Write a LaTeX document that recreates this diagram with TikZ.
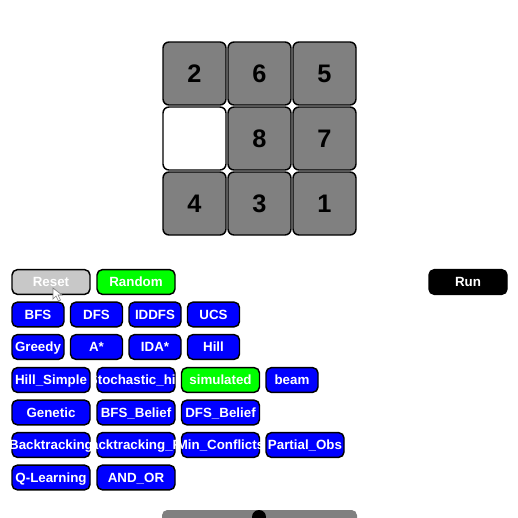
\documentclass[tikz,border=0pt]{standalone}
\usepackage{fontspec}
\setmainfont{Liberation Sans}
\definecolor{tilegray}{RGB}{128,128,128}
\definecolor{btnblue}{RGB}{0,0,255}
\definecolor{btngreen}{RGB}{0,255,0}
\definecolor{btnreset}{RGB}{200,200,200}
\definecolor{slidergray}{RGB}{128,128,128}

\begin{document}
\begin{tikzpicture}[x=0.75pt,y=0.75pt,yscale=-1,xscale=1,
    tile/.style={draw=black, line width=1.1pt, rounded corners=4.5pt, minimum width=47.25pt, minimum height=47.25pt, inner sep=0pt, font=\fontsize{19}{19}\selectfont\bfseries},
    btnbox/.style={draw=black, line width=1.1pt, rounded corners=4pt, minimum height=18.5pt, inner sep=0pt},
    btntext/.style={text=white, font=\fontsize{10}{10}\selectfont\bfseries, inner sep=0pt, anchor=base}]
%set diagram: 518 x 518
\clip (0,0) rectangle (518,518);
\fill[white] (0,0) rectangle (518,518);

%Shape: Board tiles
\foreach \n/\c/\r in {2/0/0,6/1/0,5/2/0,8/1/1,7/2/1,4/0/2,3/1/2,1/2/2}
  \node[tile, fill=tilegray] (tile\n) at (194.5+65*\c,73.5+65*\r) {\n};
\node[tile, fill=white] (blank) at (194.5,138.5) {};

%Shape: Buttons
\foreach \name/\cx/\cy/\w/\col/\txt in {
    reset/51/282/78/btnreset/Reset, random/136/282/78/btngreen/Random, run/468/282/78/black/Run,
    bfs/38/314.5/52/btnblue/BFS, dfs/96.5/314.5/52/btnblue/DFS, iddfs/155/314.5/52/btnblue/IDDFS, ucs/213.5/314.5/52/btnblue/UCS,
    greedy/38/347/52/btnblue/Greedy, astar/96.5/347/52/btnblue/A*, idastar/155/347/52/btnblue/IDA*, hill/213.5/347/52/btnblue/Hill,
    hillsimple/51/380/78/btnblue/Hill\_Simple, stochastic/136/380/78/btnblue/Stochastic\_hill, simulated/220.5/380/78/btngreen/simulated, beam/292/380/52/btnblue/beam,
    genetic/51/412.5/78/btnblue/Genetic, bfsbelief/136/412.5/78/btnblue/BFS\_Belief, dfsbelief/220.5/412.5/78/btnblue/DFS\_Belief,
    backtrack/51/445/78/btnblue/Backtracking, backtrackfc/136/445/78/btnblue/Backtracking\_FC, minconf/220.5/445/78/btnblue/Min\_Conflicts, partialobs/305/445/78/btnblue/Partial\_Obs,
    qlearning/51/477.5/78/btnblue/Q-Learning, andor/136/477.5/78/btnblue/AND\_OR}
{
  \node[btnbox, fill=\col, minimum width=\w*0.75pt] (\name) at (\cx,\cy) {};
  \begin{scope}
    \clip (\name.south west) rectangle (\name.north east);
    \node[btntext] at ([yshift=3.6pt]\name.center) {\txt};
  \end{scope}
}

%Shape: Slider
\fill[slidergray, rounded corners=4pt] (162,510) rectangle (357,530);
\fill[black] (259,517) circle (7);

%Shape: Mouse pointer
\draw[fill=white, draw=gray, line width=0.5pt] (53,288) -- (53,299) -- (56,296) -- (58.5,301) -- (60.5,300) -- (58,295) -- (62,295) -- cycle;

\end{tikzpicture}
\end{document}
